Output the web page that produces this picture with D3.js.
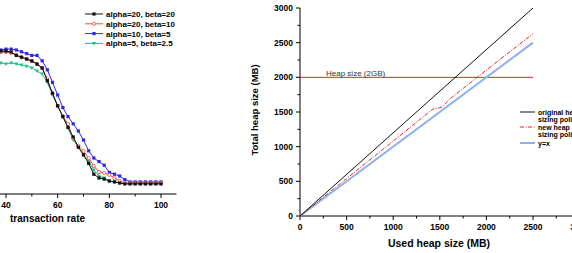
<!DOCTYPE html>
<html>
<head>
<meta charset="utf-8">
<script src="https://cdn.jsdelivr.net/npm/d3@7"></script>
<style>
  body { margin: 0; background: #fff; }
  text { font-family: "Liberation Sans", Arial, sans-serif; }
</style>
</head>
<body>
<div id="chart"></div>
<script>
// left panel: transaction rate curves
var rates = [36,38,40,42,44,46,48,50,52,54,56,58,60,62,64,66,68,70,72,74,76,78,80,82,84,86,88,90,92,94,96,98,100];
var a20b20 = [79.4,79.4,79.4,78.9,77,76,75,73.9,72.2,70,63,56,49,43,37,31.7,26,21.7,17,11,8.9,8.3,7.2,6.7,6.1,5.6,5.6,5.6,5.6,5.6,5.6,5.6,5.6];
var a20b10 = [78.9,78.9,78.9,78.3,77.2,76,75,73.9,72.2,70,64,55.6,48.9,43.3,38.9,31,26.7,23.9,20,15.6,12.2,11.7,10.6,8.9,7.2,6.1,6.1,6.1,6.1,6.1,6.1,6.1,6.1];
var a10b5 = [80,80,80.5,80.5,80,79,78,77,77,74,69,62,55,48,43,39,35,30,24,20,18,16,12,11,10,8,6.7,6.7,6.7,6.7,6.7,6.7,6.7];
var a5b25 = [72.8,72.8,72.2,72.8,72.2,71.7,71,70,68.3,66.7,62,55,48.9,42.8,36.7,30,26,22,18.3,13.3,10,8.9,7.2,6.7,6.1,5.8,5.8,5.8,5.8,5.8,5.8,5.8,5.8];
var leftNames = ["alpha=20, beta=20", "alpha=20, beta=10", "alpha=10, beta=5", "alpha=5, beta=2.5"];
var leftTicks = [40, 60, 80, 100];
var leftMinor = [50, 70, 90];

// right panel: heap sizes
var origUsed = [0, 2500];
var origTotal = [0, 3000];
var newUsed = [0, 500, 1000, 1380, 1430, 1480, 1530, 1600, 2000, 2500];
var newTotal = [0, 540, 1080, 1495, 1545, 1555, 1575, 1680, 2105, 2630];
var yxUsed = [0, 2500];
var yxTotal = [0, 2500];
var heapLimit = 2000;
var rightTicks = [0, 500, 1000, 1500, 2000, 2500, 3000];
var rightMinor = [250, 750, 1250, 1750, 2250, 2750];
var rightNames = [["original heap", "sizing policy"], ["new heap", "sizing policy"], ["y=x"]];

var svg = d3.select("#chart").append("svg")
  .attr("width", 572).attr("height", 253);
svg.append("rect").attr("width", 572).attr("height", 253).attr("fill", "#fff");

// ---------- left panel ----------
var x1 = d3.scaleLinear().domain([40, 100]).range([6, 161]);
var y1 = d3.scaleLinear().domain([0, 100]).range([194, 14]);

var left = svg.append("g");
var axisY1 = 194;
left.append("line").attr("x1", 0).attr("x2", x1(106)).attr("y1", axisY1).attr("y2", axisY1)
  .attr("stroke", "#000").attr("stroke-width", 1);
left.selectAll(".tk").data(leftTicks).enter().append("line")
  .attr("x1", function(d){ return x1(d); }).attr("x2", function(d){ return x1(d); })
  .attr("y1", axisY1).attr("y2", axisY1 + 4).attr("stroke", "#000");
left.selectAll(".mtk").data(leftMinor).enter().append("line")
  .attr("x1", function(d){ return x1(d); }).attr("x2", function(d){ return x1(d); })
  .attr("y1", axisY1).attr("y2", axisY1 + 2.5).attr("stroke", "#000");
left.selectAll(".tl").data(leftTicks).enter().append("text")
  .attr("x", function(d){ return x1(d); }).attr("y", 208)
  .attr("text-anchor", "middle").attr("font-size", "8.5px").attr("font-weight", "bold")
  .text(function(d){ return d; });
left.append("text").attr("x", 10).attr("y", 222)
  .attr("font-size", "10px").attr("font-weight", "bold").text("transaction rate");

var leftSeries = [
  {vals: a20b20, color: "#111", marker: "square", fill: "#111"},
  {vals: a20b10, color: "#f04848", marker: "circle", fill: "#fff"},
  {vals: a10b5, color: "#2a2ae8", marker: "square", fill: "#2a2ae8"},
  {vals: a5b25, color: "#1fbf8c", marker: "tri", fill: "#1fbf8c"}
];

function drawMarker(g, m, cx, cy) {
  if (m.marker == "square") {
    g.append("rect").attr("x", cx - 1.6).attr("y", cy - 1.6).attr("width", 3.2).attr("height", 3.2)
      .attr("fill", m.fill);
  } else if (m.marker == "circle") {
    g.append("circle").attr("cx", cx).attr("cy", cy).attr("r", 1.6)
      .attr("fill", "#fff").attr("stroke", m.color).attr("stroke-width", 0.8);
  } else {
    g.append("path").attr("d", "M" + (cx - 2) + "," + (cy - 1.5) + "L" + (cx + 2) + "," + (cy - 1.5) + "L" + cx + "," + (cy + 2) + "Z")
      .attr("fill", m.fill);
  }
}

var line1 = d3.line()
  .x(function(d){ return x1(d[0]); })
  .y(function(d){ return y1(d[1]); });

// draw from last to first so black sits on top
for (var k = leftSeries.length - 1; k >= 0; k--) {
  var s = leftSeries[k];
  var pts = rates.map(function(r, i){ return [r, s.vals[i]]; });
  left.append("path").datum(pts).attr("d", line1)
    .attr("fill", "none").attr("stroke", s.color).attr("stroke-width", 1);
  var mg = left.append("g");
  pts.forEach(function(p){ drawMarker(mg, s, x1(p[0]), y1(p[1])); });
}

// left legend
leftSeries.forEach(function(s, i){
  var ly = 14 + i * 9.8;
  left.append("line").attr("x1", 85).attr("x2", 103).attr("y1", ly).attr("y2", ly)
    .attr("stroke", s.color).attr("stroke-width", 1);
  drawMarker(left, s, 94, ly);
  left.append("text").attr("x", 106).attr("y", ly + 3)
    .attr("font-size", "8px").attr("font-weight", "bold").text(leftNames[i]);
});

// ---------- right panel ----------
var x2 = d3.scaleLinear().domain([0, 3000]).range([300, 579.6]);
var y2 = d3.scaleLinear().domain([0, 3000]).range([216, 8]);
var right = svg.append("g");

right.append("line").attr("x1", 300).attr("x2", 300).attr("y1", y2(0)).attr("y2", y2(3000))
  .attr("stroke", "#000");
right.append("line").attr("x1", 300).attr("x2", x2(3000)).attr("y1", 216).attr("y2", 216)
  .attr("stroke", "#000");

right.selectAll(".ytk").data(rightTicks).enter().append("line")
  .attr("x1", 296).attr("x2", 300)
  .attr("y1", function(d){ return y2(d); }).attr("y2", function(d){ return y2(d); })
  .attr("stroke", "#000");
right.selectAll(".ymtk").data(rightMinor).enter().append("line")
  .attr("x1", 297.5).attr("x2", 300)
  .attr("y1", function(d){ return y2(d); }).attr("y2", function(d){ return y2(d); })
  .attr("stroke", "#000");
right.selectAll(".ytl").data(rightTicks).enter().append("text")
  .attr("x", 293).attr("y", function(d){ return y2(d) + 3; })
  .attr("text-anchor", "end").attr("font-size", "8.5px").attr("font-weight", "bold")
  .text(function(d){ return d; });

right.selectAll(".xtk").data(rightTicks).enter().append("line")
  .attr("x1", function(d){ return x2(d); }).attr("x2", function(d){ return x2(d); })
  .attr("y1", 216).attr("y2", 220).attr("stroke", "#000");
right.selectAll(".xmtk").data(rightMinor).enter().append("line")
  .attr("x1", function(d){ return x2(d); }).attr("x2", function(d){ return x2(d); })
  .attr("y1", 216).attr("y2", 218.5).attr("stroke", "#000");
right.selectAll(".xtl").data(rightTicks).enter().append("text")
  .attr("x", function(d){ return x2(d); }).attr("y", 230)
  .attr("text-anchor", "middle").attr("font-size", "8.5px").attr("font-weight", "bold")
  .text(function(d){ return d; });

right.append("text").attr("x", 439).attr("y", 247).attr("text-anchor", "middle")
  .attr("font-size", "10.5px").attr("font-weight", "bold").text("Used heap size (MB)");
right.append("text").attr("transform", "translate(258,110) rotate(-90)").attr("text-anchor", "middle")
  .attr("font-size", "9.5px").attr("font-weight", "bold").text("Total heap size (MB)");

var line2 = d3.line()
  .x(function(d){ return x2(d[0]); })
  .y(function(d){ return y2(d[1]); });

// heap limit
right.append("path").datum([[0, heapLimit], [2500, heapLimit]]).attr("d", line2)
  .attr("fill", "none").attr("stroke", "#e82020").attr("stroke-width", 1);
right.append("text").attr("x", 326).attr("y", 76).attr("font-size", "8px")
  .attr("fill", "#333").text("Heap size (2GB)");

right.append("path").datum(yxUsed.map(function(u, i){ return [u, yxTotal[i]]; })).attr("d", line2)
  .attr("fill", "none").attr("stroke", "#8fb0ee").attr("stroke-width", 2);
right.append("path").datum(newUsed.map(function(u, i){ return [u, newTotal[i]]; })).attr("d", line2)
  .attr("fill", "none").attr("stroke", "#e82020").attr("stroke-width", 1)
  .attr("stroke-dasharray", "4,1.5,1,1.5");
right.append("path").datum(origUsed.map(function(u, i){ return [u, origTotal[i]]; })).attr("d", line2)
  .attr("fill", "none").attr("stroke", "#111").attr("stroke-width", 1);

// right legend
var rightStyles = [
  {color: "#111", w: 1, dash: null, y: 112},
  {color: "#e82020", w: 1, dash: "4,1.5,1,1.5", y: 127},
  {color: "#8fb0ee", w: 2, dash: null, y: 143}
];
rightStyles.forEach(function(s, i){
  right.append("line").attr("x1", 520).attr("x2", 535).attr("y1", s.y).attr("y2", s.y)
    .attr("stroke", s.color).attr("stroke-width", s.w).attr("stroke-dasharray", s.dash);
  rightNames[i].forEach(function(t, j){
    right.append("text").attr("x", 538).attr("y", s.y + 2.5 + j * 7.7)
      .attr("font-size", "7px").attr("font-weight", "bold").text(t);
  });
});
</script>
</body>
</html>
